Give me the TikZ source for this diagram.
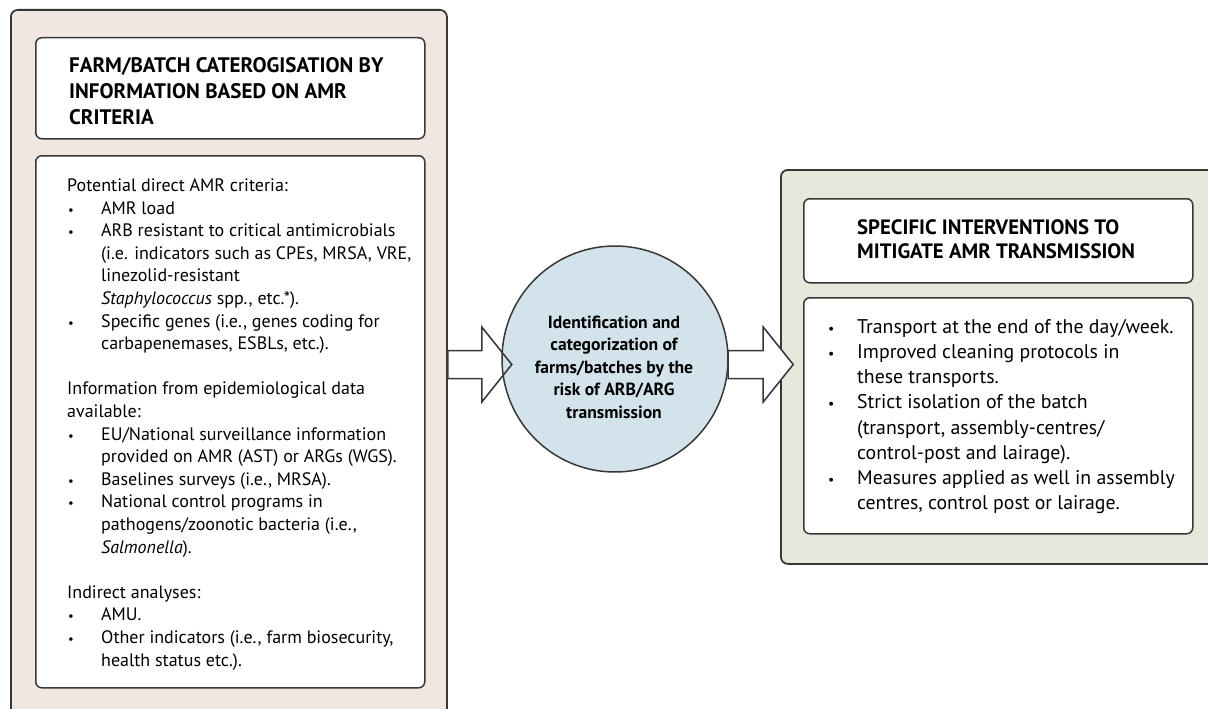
\documentclass[tikz,border=0pt]{standalone}
\usepackage{fontspec}
\setmainfont{PT Sans}
\usetikzlibrary{calc}
\definecolor{edge}{HTML}{3A3836}
\definecolor{leftfill}{HTML}{EFE7E0}
\definecolor{rightfill}{HTML}{E6E8DC}
\definecolor{riskfill}{HTML}{D3E3EC}
% bullet and continuation indents for the lists
\newcommand\itm{\makebox[34pt][l]{\hspace{1pt}\scalebox{.7}{\textbullet}}}
\newcommand\cnt{\hspace*{34pt}}
\newcommand\ritm{\makebox[30pt][l]{\hspace{1pt}\scalebox{.7}{\textbullet}}}
\newcommand\rcnt{\hspace*{30pt}}
% outline of a broad block arrow: tail, head base, tip
\newcommand\blockarrow[3]{($(#1)+(0,-14)$) -- ($(#2)+(0,-14)$) -- ($(#2)+(0,-37.5)$) -- (#3)
  -- ($(#2)+(0,37.5)$) -- ($(#2)+(0,14)$) -- ($(#1)+(0,14)$) -- cycle}
\begin{document}
\begin{tikzpicture}[x=1pt,y=-1pt,
  panel/.style={draw=edge, line width=1.8pt, rounded corners=7pt, anchor=north west, inner sep=0pt},
  card/.style={draw=edge, line width=1.5pt, rounded corners=6pt, fill=white, anchor=north west, inner sep=0pt},
  headtext/.style={anchor=north west, inner sep=0pt, align=left, font=\bfseries\fontsize{21}{26}\selectfont},
  bodytext/.style={anchor=north west, inner sep=0pt, align=left, font=\fontsize{18}{22.6}\selectfont},
  rbodytext/.style={anchor=north west, inner sep=0pt, align=left, font=\fontsize{19.8}{25.2}\selectfont},
]
\useasboundingbox (0,0) rectangle (1208,709);
\clip (0,0) rectangle (1208,709);
\fill[white] (0,0) rectangle (1208,709);

% left panel: categorisation criteria
\node[panel, fill=leftfill, minimum width=436pt, minimum height=720pt] (leftpanel) at (10,9) {};
\node[card, minimum width=389pt, minimum height=101pt] (lefthead) at (35,37) {};
\node[card, minimum width=389pt, minimum height=532pt] (leftbody) at (35,155) {};

\node[headtext] (lefttitle) at (69,57.5) {FARM/BATCH CATEROGISATION BY\\INFORMATION BASED ON AMR\\CRITERIA};

\node[bodytext] (criteria) at (67,178.5) {Potential direct AMR criteria:\\
\itm AMR load\\
\itm ARB resistant to critical antimicrobials\\
\cnt (i.e. indicators such as CPEs, MRSA, VRE,\\
\cnt linezolid-resistant\\
\cnt \textit{Staphylococcus} spp., etc.*).\\
\itm Specific genes (i.e., genes coding for\\
\cnt carbapenemases, ESBLs, etc.).\\[22.6pt]
Information from epidemiological data\\
available:\\
\itm EU/National surveillance information\\
\cnt provided on AMR (AST) or ARGs (WGS).\\
\itm Baselines surveys (i.e., MRSA).\\
\itm National control programs in\\
\cnt pathogens/zoonotic bacteria (i.e.,\\
\cnt \textit{Salmonella}).\\[22.6pt]
Indirect analyses:\\
\itm AMU.\\
\itm Other indicators (i.e., farm biosecurity,\\
\cnt health status etc.).};

% right panel: interventions
\node[panel, fill=rightfill, minimum width=440pt, minimum height=394pt] (rightpanel) at (780,169) {};
\node[card, minimum width=389pt, minimum height=84pt] (righthead) at (803,198) {};
\node[card, minimum width=389pt, minimum height=236pt] (rightbody) at (803,297) {};

\node[headtext, font=\bfseries\fontsize{20.8}{24}\selectfont] (righttitle) at (857,219) {SPECIFIC INTERVENTIONS TO\\MITIGATE AMR TRANSMISSION};

\node[rbodytext] (measures) at (827,319) {\ritm Transport at the end of the day/week.\\
\ritm Improved cleaning protocols in\\
\rcnt these transports.\\
\ritm Strict isolation of the batch\\
\rcnt (transport, assembly-centres/\\
\rcnt control-post and lairage).\\
\ritm Measures applied as well in assembly\\
\rcnt centres, control post or lairage.};

% central risk circle and the two block arrows
\coordinate (axis) at (0,364.5);
\node[circle, minimum size=226pt, inner sep=0pt] (risk) at (615,359) {};

\coordinate (a1tail) at (leftpanel.east |- axis);
\coordinate (a1base) at ($(a1tail)+(34,0)$);
\coordinate (a1tip)  at ($(a1tail)+(64,0)$);
\coordinate (a2tail) at (risk.east |- axis);
\coordinate (a2base) at ($(a2tail)+(35,0)$);
\coordinate (a2tip)  at ($(a2tail)+(65,0)$);

\fill[white] \blockarrow{a1tail}{a1base}{a1tip};
\fill[white] \blockarrow{a2tail}{a2base}{a2tip};

\draw[edge, line width=1.5pt, fill=riskfill] (risk.center) circle[radius=113pt];
\node[align=center, inner sep=0pt, font=\bfseries\fontsize{17.6}{22.5}\selectfont] (risktext) at (614,367)
  {Identification and\\categorization of\\farms/batches by the\\risk of ARB/ARG\\transmission};

\draw[edge, line width=1.5pt, line join=miter] \blockarrow{a1tail}{a1base}{a1tip};
\draw[edge, line width=1.5pt, line join=miter] \blockarrow{a2tail}{a2base}{a2tip};
\end{tikzpicture}
\end{document}
